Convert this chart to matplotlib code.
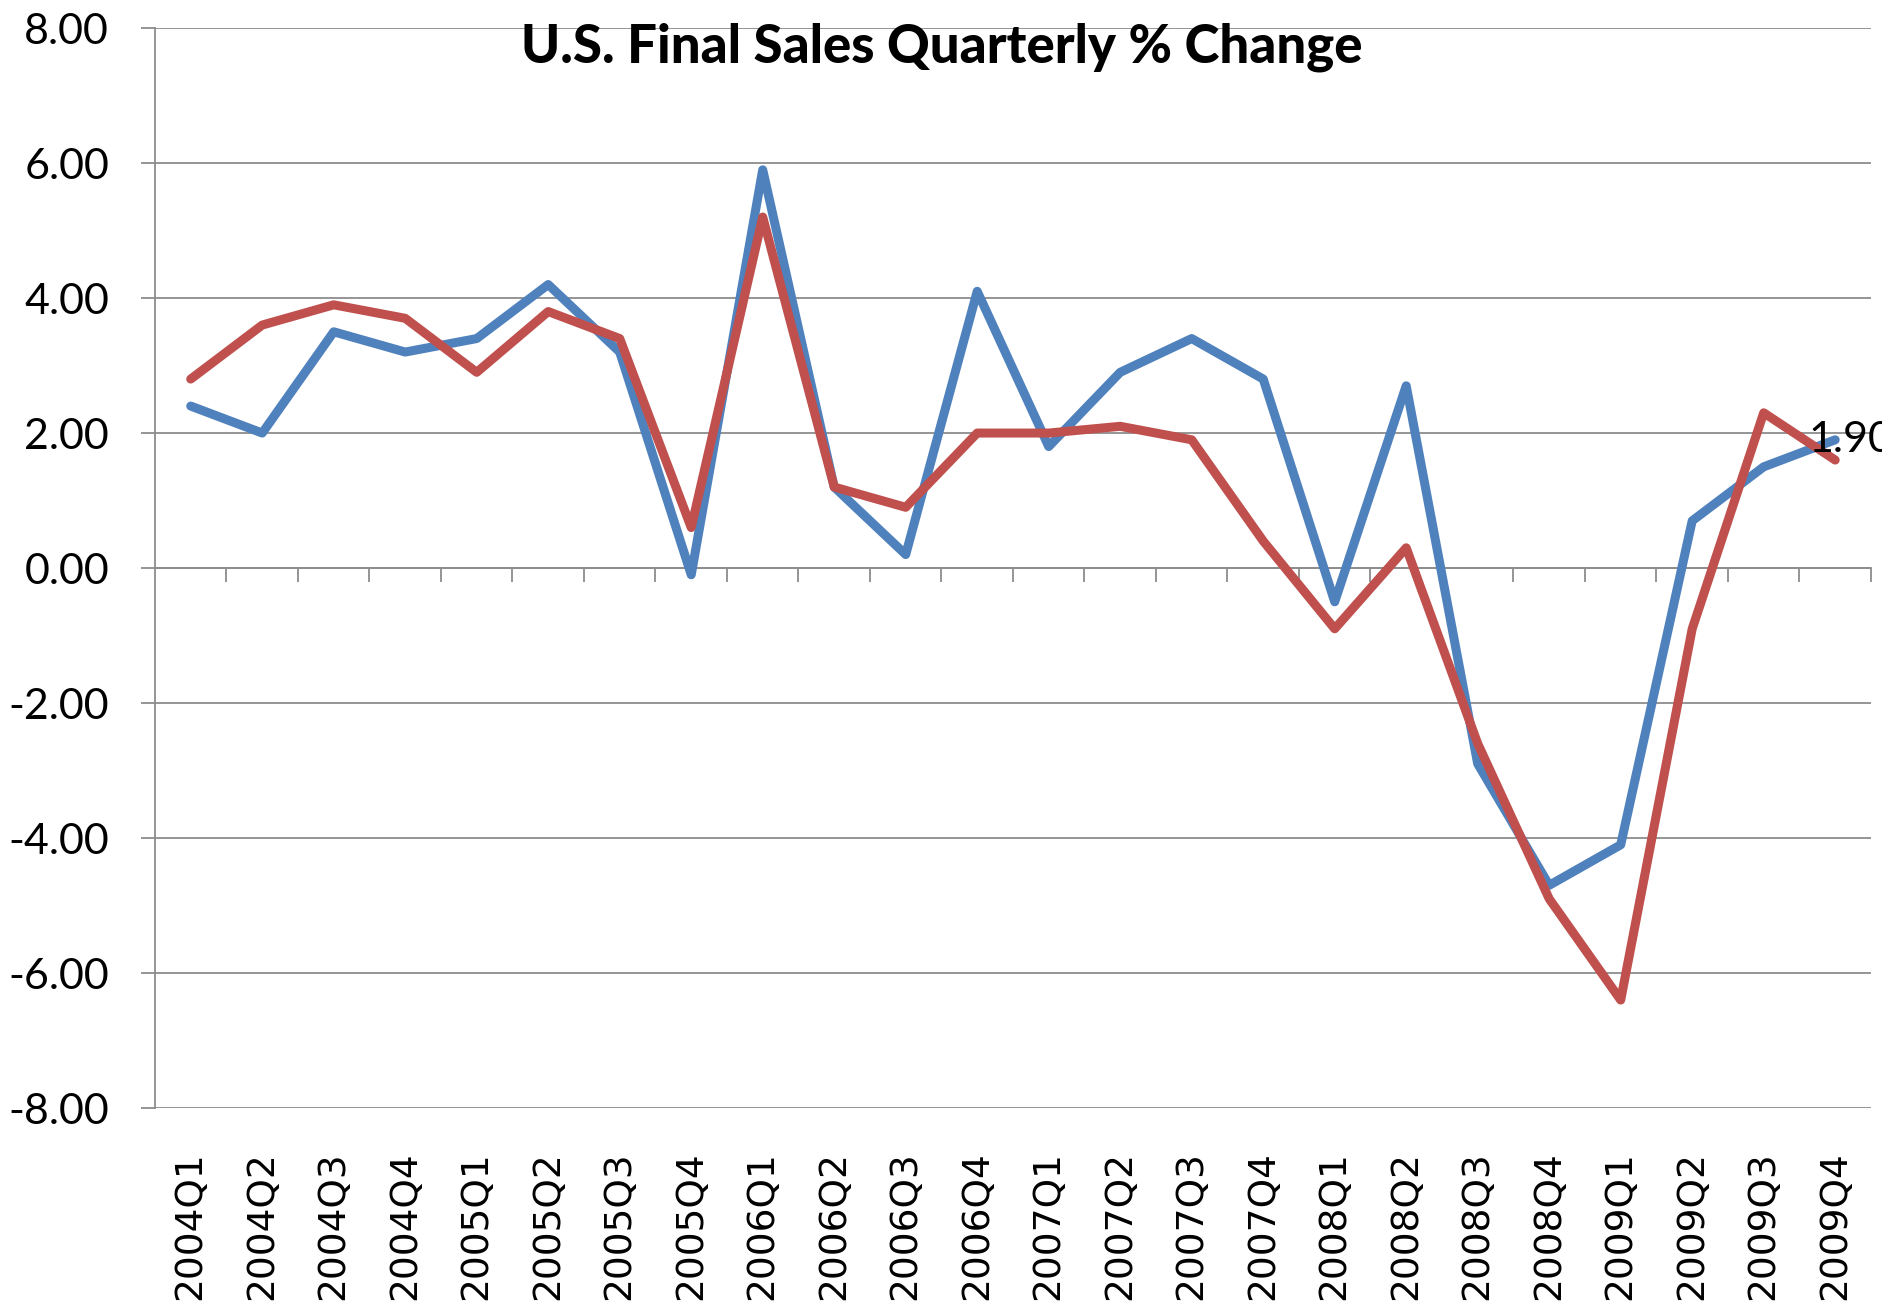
import numpy as np
import matplotlib
matplotlib.use("Agg")
import matplotlib.pyplot as plt

quarters = ["2004Q1", "2004Q2", "2004Q3", "2004Q4",
            "2005Q1", "2005Q2", "2005Q3", "2005Q4",
            "2006Q1", "2006Q2", "2006Q3", "2006Q4",
            "2007Q1", "2007Q2", "2007Q3", "2007Q4",
            "2008Q1", "2008Q2", "2008Q3", "2008Q4",
            "2009Q1", "2009Q2", "2009Q3", "2009Q4"]
blue_vals = [2.4, 2.0, 3.5, 3.2, 3.4, 4.2, 3.2, -0.1,
             5.9, 1.2, 0.2, 4.1, 1.8, 2.9, 3.4, 2.8,
             -0.5, 2.7, -2.9, -4.7, -4.1, 0.7, 1.5, 1.9]
red_vals = [2.8, 3.6, 3.9, 3.7, 2.9, 3.8, 3.4, 0.6,
            5.2, 1.2, 0.9, 2.0, 2.0, 2.1, 1.9, 0.4,
            -0.9, 0.3, -2.6, -4.9, -6.4, -0.9, 2.3, 1.6]
yticks = [-8, -6, -4, -2, 0, 2, 4, 6, 8]

grey = "#8c8c8c"
tick_font = "Lato"

fig = plt.figure(figsize=(18.83, 13.11), dpi=100)
ax = fig.add_axes([0.0823, 0.1548, 0.9113, 0.8238])

x = np.arange(len(quarters))
ax.plot(x, blue_vals, color="#4F81BD", linewidth=6.5, solid_joinstyle="round",
        solid_capstyle="round", zorder=3)
ax.plot(x, red_vals, color="#C0504D", linewidth=6.5, solid_joinstyle="round",
        solid_capstyle="round", zorder=4)

# data label on the last blue point (cut by the right edge, as in the source)
ax.annotate(f"{blue_vals[-1]:.2f}", (x[-1], blue_vals[-1]),
            xytext=(-19, 0), textcoords="offset points",
            ha="left", va="center", fontsize=31, family=tick_font,
            annotation_clip=False, zorder=5)

ax.set_xlim(-0.5, len(quarters) - 0.5)
ax.set_ylim(-8, 8)

# y axis
ax.set_yticks(yticks)
ax.set_yticklabels([f"{v:.2f}" for v in yticks], family=tick_font, fontsize=31)
ax.tick_params(axis="y", direction="out", length=10, width=1.3, color=grey, pad=23)
ax.yaxis.grid(True, color=grey, linewidth=1.3)
ax.set_axisbelow(True)

for s in ["top", "right"]:
    ax.spines[s].set_visible(False)
ax.spines["left"].set_color(grey)
ax.spines["left"].set_linewidth(1.3)

# category axis crosses at zero, tick marks between categories
ax.spines["bottom"].set_position(("data", 0))
ax.spines["bottom"].set_color(grey)
ax.spines["bottom"].set_linewidth(1.3)
ax.set_xticks(np.arange(0.5, len(quarters), 1.0))
ax.set_xticklabels([])
ax.tick_params(axis="x", direction="out", length=10, width=1.3, color=grey)

for i, q in enumerate(quarters):
    ax.text(i, -0.04, q, transform=ax.get_xaxis_transform(), rotation=90,
            ha="center", va="top", fontsize=27, family="DejaVu Sans")

fig.text(0.5, 0.964, "U.S. Final Sales Quarterly % Change", ha="center",
         va="center", fontsize=38, fontweight="black", family=tick_font)

fig.savefig("out.png", dpi=100)
